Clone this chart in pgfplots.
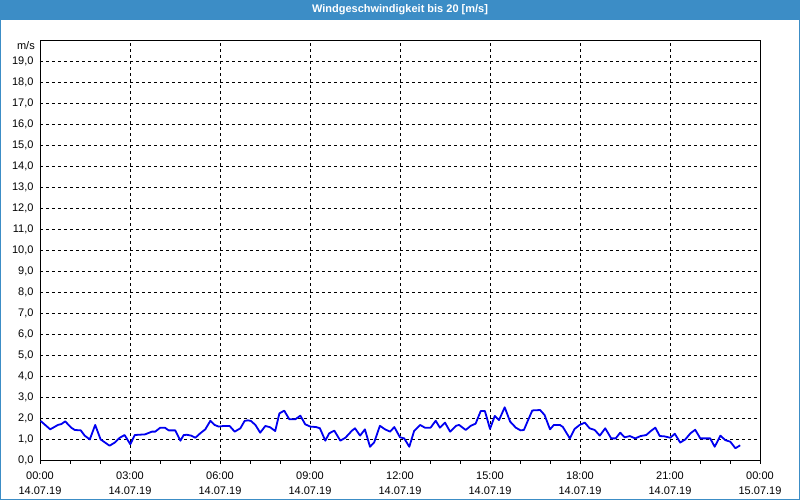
\documentclass[border=0pt]{standalone}
\usepackage{pgfplots}
\pgfplotsset{compat=1.18}
\usepackage{fontspec}
\setmainfont{Liberation Sans}
\definecolor{barblue}{HTML}{3C8DC6}
\definecolor{lineblue}{HTML}{0000F0}
\begin{document}
\begin{tikzpicture}
\path[use as bounding box] (0pt,0pt) rectangle (800pt,500pt);
\fill[white] (0pt,0pt) rectangle (800pt,500pt);
\fill[barblue] (0pt,480pt) rectangle (800pt,500pt);
\draw[barblue,line width=1pt] (0.5pt,0.5pt) rectangle (799.5pt,499.5pt);
\node[text=white,font=\fontsize{11}{13}\selectfont\bfseries] at (400pt,490pt) {Windgeschwindigkeit bis 20 [m/s]};
\begin{axis}[
  at={(40pt,40pt)}, anchor=south west,
  scale only axis, width=720pt, height=420pt,
  xmin=0, xmax=24, ymin=0, ymax=20,
  clip mode=individual,
  axis line style={black, line width=0.9pt},
  xtick={0,3,...,24},
  xticklabels={{00:00\\14.07.19},{03:00\\14.07.19},{06:00\\14.07.19},{09:00\\14.07.19},{12:00\\14.07.19},{15:00\\14.07.19},{18:00\\14.07.19},{21:00\\14.07.19},{00:00\\15.07.19}},
  minor x tick num=2,
  ytick={0,1,...,19},
  yticklabels={{0,0},{1,0},{2,0},{3,0},{4,0},{5,0},{6,0},{7,0},{8,0},{9,0},{10,0},{11,0},{12,0},{13,0},{14,0},{15,0},{16,0},{17,0},{18,0},{19,0}},
  grid=major,
  major grid style={black, line width=0.8pt, dash pattern=on 3pt off 3pt},
  tick align=outside, xtick pos=bottom, ytick pos=left,
  x tick style={black, line width=0.8pt},
  major tick length=4pt, minor tick length=4pt,
  y tick style={draw=none},
  xticklabel style={align=center, font=\fontsize{11}{15}\selectfont, yshift=-4pt},
  yticklabel style={font=\fontsize{11}{13}\selectfont, xshift=1pt},
]
\addplot[lineblue, line width=1.8pt, line join=round] table {
t v
0.02 1.86
0.34 1.46
0.60 1.67
0.71 1.71
0.84 1.84
1.04 1.54
1.16 1.43
1.36 1.41
1.49 1.16
1.66 0.98
1.84 1.67
2.02 0.98
2.16 0.84
2.32 0.68
2.49 0.83
2.66 1.06
2.82 1.19
3.01 0.75
3.16 1.19
3.50 1.22
3.73 1.35
3.84 1.35
4.01 1.54
4.16 1.54
4.29 1.41
4.51 1.41
4.68 0.92
4.79 1.19
4.90 1.20
5.04 1.16
5.18 1.06
5.34 1.27
5.51 1.46
5.68 1.87
5.82 1.67
5.96 1.59
6.12 1.62
6.32 1.62
6.49 1.35
6.68 1.51
6.82 1.86
6.93 1.89
7.03 1.86
7.18 1.67
7.34 1.30
7.51 1.62
7.67 1.56
7.84 1.38
7.98 2.22
8.14 2.35
8.31 1.94
8.51 1.94
8.68 2.11
8.84 1.70
9.01 1.59
9.20 1.57
9.33 1.51
9.51 0.92
9.64 1.27
9.81 1.40
10.01 0.92
10.18 1.06
10.40 1.40
10.50 1.51
10.67 1.16
10.83 1.46
11.00 0.63
11.14 0.84
11.33 1.63
11.50 1.46
11.67 1.35
11.81 1.57
12.00 1.08
12.14 1.03
12.31 0.63
12.47 1.38
12.67 1.67
12.83 1.54
13.02 1.54
13.19 1.87
13.33 1.54
13.50 1.78
13.67 1.35
13.87 1.63
13.97 1.67
14.19 1.43
14.36 1.63
14.52 1.73
14.69 2.33
14.83 2.33
15.00 1.48
15.16 2.10
15.30 1.90
15.49 2.51
15.67 1.83
15.86 1.54
16.02 1.41
16.13 1.43
16.27 1.90
16.41 2.36
16.67 2.38
16.82 2.14
17.00 1.46
17.13 1.67
17.33 1.67
17.43 1.57
17.66 1.03
17.82 1.48
17.99 1.67
18.16 1.78
18.32 1.51
18.49 1.43
18.66 1.16
18.84 1.51
19.04 1.03
19.19 1.03
19.34 1.30
19.49 1.08
19.66 1.14
19.84 1.03
20.02 1.14
20.21 1.19
20.36 1.38
20.51 1.54
20.66 1.14
20.80 1.13
21.01 1.06
21.16 1.25
21.34 0.83
21.51 0.98
21.68 1.27
21.84 1.44
22.01 1.03
22.34 1.03
22.49 0.63
22.68 1.16
22.84 0.95
23.01 0.87
23.18 0.56
23.34 0.70
};
\node[anchor=east, font=\fontsize{11}{13}\selectfont, inner sep=0pt] at ([xshift=-5pt,yshift=-6pt]rel axis cs:0,1) {m/s};
\end{axis}
\end{tikzpicture}
\end{document}
